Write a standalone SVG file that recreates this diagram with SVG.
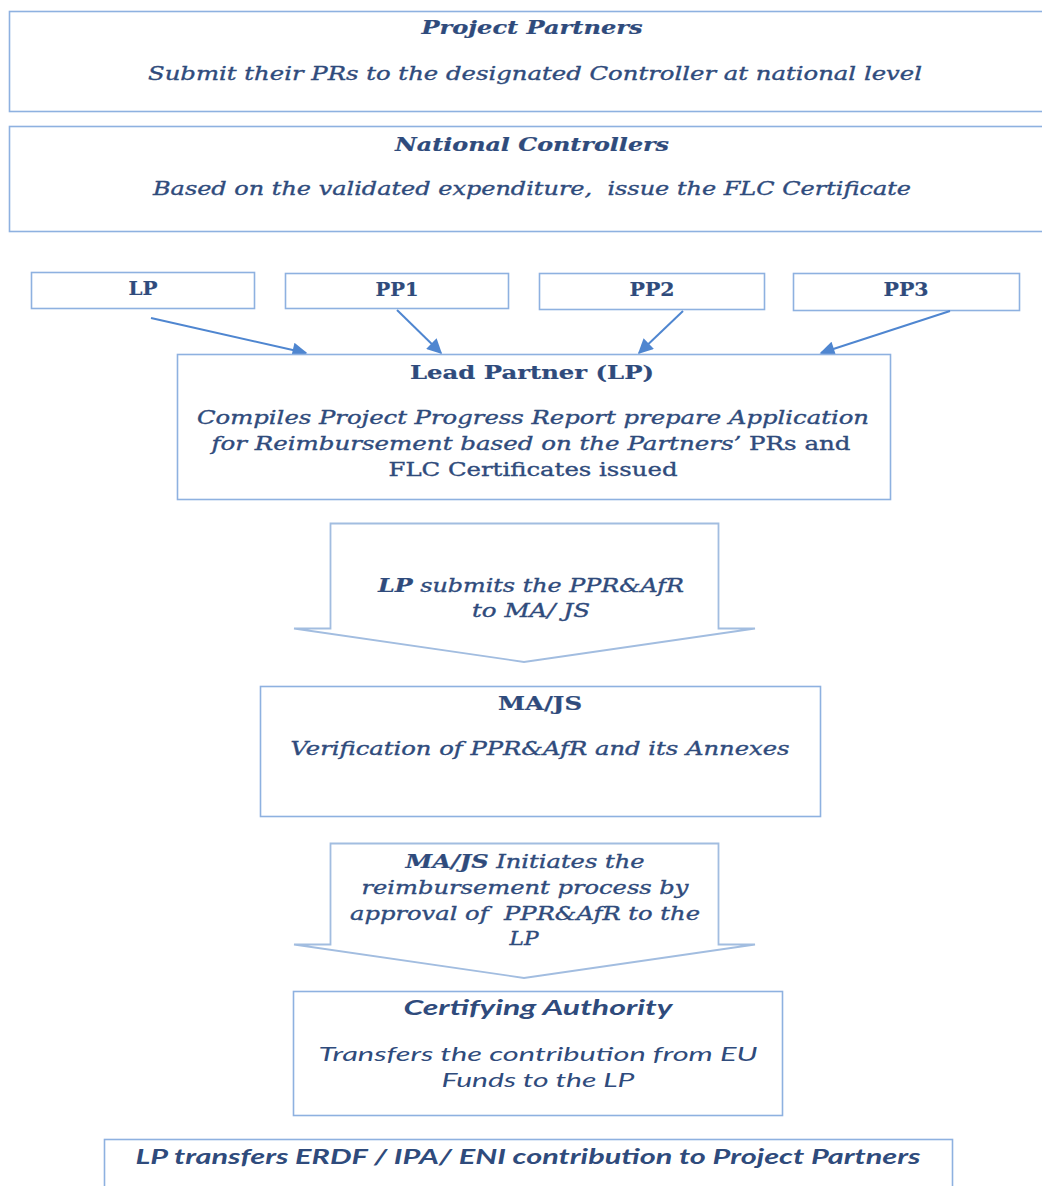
<svg xmlns="http://www.w3.org/2000/svg" width="1042" height="1186" viewBox="0 0 1042 1186">
<defs>
<style>
.box{fill:#ffffff;stroke:#8EB1E0;stroke-width:1.6}
.blk{fill:#ffffff;stroke:#A2BDE0;stroke-width:1.8;stroke-linejoin:miter}
.t{font-family:"DejaVu Serif","Liberation Serif",serif;font-size:18px;fill:#2F4B7C;text-anchor:middle;stroke:#2F4B7C;stroke-width:0.35;white-space:pre}
.c{font-family:Lato,"Liberation Sans",sans-serif;font-size:20px;fill:#2F4B7C;text-anchor:middle;font-style:italic}
.b{font-weight:bold;stroke-width:0.2}
.i{font-style:italic}
.con{stroke:#4F86D0;stroke-width:2;fill:none}
</style>
<marker id="ah" viewBox="0 0 10 10" refX="9" refY="5" markerWidth="17" markerHeight="15" orient="auto" markerUnits="userSpaceOnUse">
<path d="M0,0 L10,5 L0,10 z" fill="#4F86D0"/>
</marker>
</defs>
<rect width="1042" height="1186" fill="#ffffff"/>

<g id="project-partners">
<rect class="box" x="9.5" y="11.5" width="1045" height="100"/>
<text class="t b i" x="532" y="34" textLength="221" lengthAdjust="spacingAndGlyphs">Project Partners</text>
<text class="t i" x="535" y="80" textLength="774" lengthAdjust="spacingAndGlyphs">Submit their PRs to the designated Controller at national level</text>
</g>

<g id="national-controllers">
<rect class="box" x="9.5" y="126.5" width="1045" height="105"/>
<text class="t b i" x="532" y="151" textLength="274" lengthAdjust="spacingAndGlyphs">National Controllers</text>
<text class="t i" x="532" y="195" textLength="758" lengthAdjust="spacingAndGlyphs">Based on the validated expenditure,  issue the FLC Certificate</text>
</g>

<g id="lp">
<rect class="box" x="31.5" y="272.5" width="223" height="36"/>
<text class="t b" x="143" y="295" textLength="29" lengthAdjust="spacingAndGlyphs">LP</text>
</g>
<g id="pp1">
<rect class="box" x="285.5" y="273.5" width="223" height="35"/>
<text class="t b" x="397" y="296" textLength="43" lengthAdjust="spacingAndGlyphs">PP1</text>
</g>
<g id="pp2">
<rect class="box" x="539.5" y="273.5" width="225" height="36"/>
<text class="t b" x="652" y="296" textLength="45" lengthAdjust="spacingAndGlyphs">PP2</text>
</g>
<g id="pp3">
<rect class="box" x="793.5" y="273.5" width="226" height="37"/>
<text class="t b" x="906" y="296" textLength="45" lengthAdjust="spacingAndGlyphs">PP3</text>
</g>

<g id="connectors">
<line class="con" x1="151" y1="318" x2="306" y2="353" marker-end="url(#ah)"/>
<line class="con" x1="397" y1="310" x2="441" y2="353" marker-end="url(#ah)"/>
<line class="con" x1="683" y1="311" x2="639" y2="353" marker-end="url(#ah)"/>
<line class="con" x1="950" y1="311" x2="821" y2="353" marker-end="url(#ah)"/>
</g>

<g id="lead-partner">
<rect class="box" x="177.5" y="354.5" width="713" height="145"/>
<text class="t b" x="532" y="379" textLength="244" lengthAdjust="spacingAndGlyphs">Lead Partner (LP)</text>
<text class="t i" x="533" y="424" textLength="672" lengthAdjust="spacingAndGlyphs">Compiles Project Progress Report prepare Application</text>
<text class="t" x="531" y="450" textLength="639" lengthAdjust="spacingAndGlyphs"><tspan class="i">for Reimbursement based on the Partners’ </tspan><tspan>PRs and</tspan></text>
<text class="t" x="533" y="476" textLength="289" lengthAdjust="spacingAndGlyphs">FLC Certificates issued</text>
</g>

<g id="submit-arrow">
<path class="blk" d="M330.5,523.5 L718.5,523.5 L718.5,628.5 L755,628.5 L524,662 L294,628.5 L330.5,628.5 Z"/>
<text class="t i" x="531" y="592" textLength="306" lengthAdjust="spacingAndGlyphs"><tspan class="b">LP</tspan> submits the PPR&amp;AfR</text>
<text class="t i" x="531" y="617" textLength="118" lengthAdjust="spacingAndGlyphs">to MA/ JS</text>
</g>

<g id="ma-js">
<rect class="box" x="260.5" y="686.5" width="560" height="130"/>
<text class="t b" x="540" y="710" textLength="84" lengthAdjust="spacingAndGlyphs">MA/JS</text>
<text class="t i" x="540" y="755" textLength="499" lengthAdjust="spacingAndGlyphs">Verification of PPR&amp;AfR and its Annexes</text>
</g>

<g id="initiate-arrow">
<path class="blk" d="M330.5,843.5 L718.5,843.5 L718.5,944.5 L755,944.5 L524,978 L294,944.5 L330.5,944.5 Z"/>
<text class="t i" x="525" y="868" textLength="239" lengthAdjust="spacingAndGlyphs"><tspan class="b">MA/JS</tspan> Initiates the</text>
<text class="t i" x="525" y="894" textLength="327" lengthAdjust="spacingAndGlyphs">reimbursement process by</text>
<text class="t i" x="525" y="920" textLength="350" lengthAdjust="spacingAndGlyphs">approval of  PPR&amp;AfR to the</text>
<text class="t i" x="524" y="945" textLength="29" lengthAdjust="spacingAndGlyphs">LP</text>
</g>

<g id="certifying-authority">
<rect class="box" x="293.5" y="991.5" width="489" height="124"/>
<text class="c b" x="538" y="1015" textLength="269" lengthAdjust="spacingAndGlyphs">Certifying Authority</text>
<text class="c" x="538" y="1061" textLength="439" lengthAdjust="spacingAndGlyphs">Transfers the contribution from EU</text>
<text class="c" x="538" y="1087" textLength="193" lengthAdjust="spacingAndGlyphs">Funds to the LP</text>
</g>

<g id="lp-transfers">
<rect class="box" x="104.5" y="1139.5" width="848" height="60"/>
<text class="c b" x="528" y="1164" textLength="785" lengthAdjust="spacingAndGlyphs">LP transfers ERDF / IPA/ ENI contribution to Project Partners</text>
</g>
</svg>
